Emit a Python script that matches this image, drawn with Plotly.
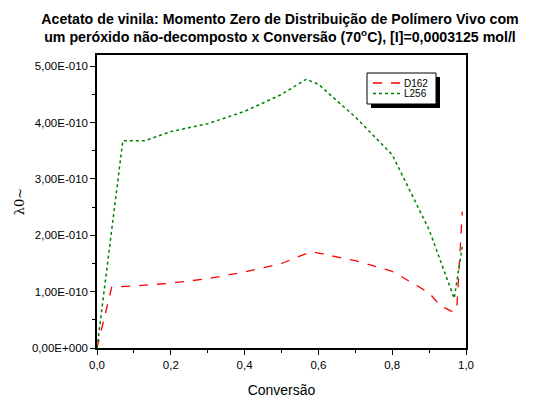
import plotly.graph_objects as go

# D162 (red dashed)
x_d162 = [0.0, 0.04, 0.1, 0.2, 0.3, 0.4, 0.5, 0.58, 0.7, 0.8, 0.9, 0.93, 0.965, 0.975, 0.99]
y_d162 = [0.0, 1.08e-10, 1.10e-10, 1.15e-10, 1.23e-10, 1.35e-10, 1.50e-10, 1.71e-10, 1.55e-10, 1.36e-10, 0.98e-10, 0.75e-10, 0.64e-10, 0.70e-10, 2.42e-10]

# L256 (green dotted)
x_l256 = [0.0, 0.07, 0.13, 0.2, 0.3, 0.4, 0.5, 0.567, 0.6, 0.7, 0.8, 0.9, 0.968, 0.99]
y_l256 = [0.0, 3.68e-10, 3.68e-10, 3.84e-10, 3.98e-10, 4.20e-10, 4.50e-10, 4.77e-10, 4.68e-10, 4.10e-10, 3.43e-10, 2.10e-10, 0.88e-10, 1.80e-10]

series_names = ["D162", "L256"]
series_colors = ["red", "green"]
series_dash = ["dash", "dot"]

x_ticks = [0.0, 0.2, 0.4, 0.6, 0.8, 1.0]
x_labels = ["0,0", "0,2", "0,4", "0,6", "0,8", "1,0"]
y_ticks = [0.0, 1e-10, 2e-10, 3e-10, 4e-10, 5e-10]
y_labels = ["0,00E+000", "1,00E-010", "2,00E-010", "3,00E-010", "4,00E-010", "5,00E-010"]

fig = go.Figure()
fig.add_trace(go.Scatter(x=x_d162, y=y_d162, mode="lines", name=series_names[0],
                         line=dict(color=series_colors[0], dash=series_dash[0], width=1.3)))
fig.add_trace(go.Scatter(x=x_l256, y=y_l256, mode="lines", name=series_names[1],
                         line=dict(color=series_colors[1], dash=series_dash[1], width=1.5)))

# page body has an 8px margin; size the figure so it fills the 544x398 window
OFF = 8
W, H = 544 - OFF, 398 - OFF
# plot area in window pixels: x 97..466, y 55..348
L, R, T, B = 97 - OFF, 544 - 466, 55 - OFF, 398 - 348
pw, ph = 466 - 97, 348 - 55

def px(x): return (x - 97) / pw
def py(y): return (348 - y) / ph

# manual legend with drop shadow
fig.add_shape(type="rect", xref="paper", yref="paper",
              x0=px(371), x1=px(440), y0=py(108), y1=py(77),
              fillcolor="black", line=dict(width=0), layer="above")
fig.add_shape(type="rect", xref="paper", yref="paper",
              x0=px(367), x1=px(436), y0=py(104), y1=py(73),
              fillcolor="white", line=dict(color="black", width=1), layer="above")
for i, (nm, col, dsh) in enumerate(zip(series_names, series_colors, series_dash)):
    yy = 83 + i * 10.5
    fig.add_shape(type="line", xref="paper", yref="paper",
                  x0=px(373), x1=px(400), y0=py(yy), y1=py(yy),
                  line=dict(color=col, dash=dsh, width=1.3 if i == 0 else 1.5), layer="above")
    fig.add_annotation(xref="paper", yref="paper", x=px(402), y=py(yy),
                       xanchor="left", yanchor="middle", text=nm, showarrow=False,
                       font=dict(size=10))

fig.update_layout(
    width=W, height=H,
    margin=dict(l=L, r=R, t=T, b=B, autoexpand=False),
    paper_bgcolor="white", plot_bgcolor="white",
    font=dict(family="Liberation Sans, Arial, sans-serif", color="black", size=11),
    title=dict(text="<b>Acetato de vinila: Momento Zero de Distribuição de Polímero Vivo com<br>um peróxido não-decomposto x Conversão (70<sup>o</sup>C), [I]=0,0003125 mol/l</b>",
               x=(280 - OFF) / W, xanchor="center", xref="container",
               y=0.959, yanchor="top", yref="container",
               font=dict(size=14.2)),
    showlegend=False,
    xaxis=dict(range=[0, 1.0], tickvals=x_ticks, ticktext=x_labels, automargin=False,
               showline=True, linecolor="black", linewidth=1.5, mirror=True,
               ticks="outside", ticklen=5, tickwidth=1, tickcolor="black",
               tickfont=dict(size=11.5),
               minor=dict(tickvals=[0.1, 0.3, 0.5, 0.7, 0.9], ticks="outside", ticklen=3, tickcolor="black"),
               showgrid=False, zeroline=False,
               title=dict(text="Conversão", font=dict(size=14), standoff=18)),
    yaxis=dict(range=[0, 5.2e-10], tickvals=y_ticks, ticktext=y_labels, automargin=False,
               showline=True, linecolor="black", linewidth=1.5, mirror=True,
               ticks="outside", ticklen=5, tickwidth=1, tickcolor="black",
               tickfont=dict(size=11.5),
               minor=dict(tickvals=[0.5e-10, 1.5e-10, 2.5e-10, 3.5e-10, 4.5e-10], ticks="outside", ticklen=3, tickcolor="black"),
               showgrid=False, zeroline=False,
               title=dict(text="λ0~", font=dict(size=13, family="DejaVu Serif, serif"), standoff=4)),
)

fig.write_html("out.html")
